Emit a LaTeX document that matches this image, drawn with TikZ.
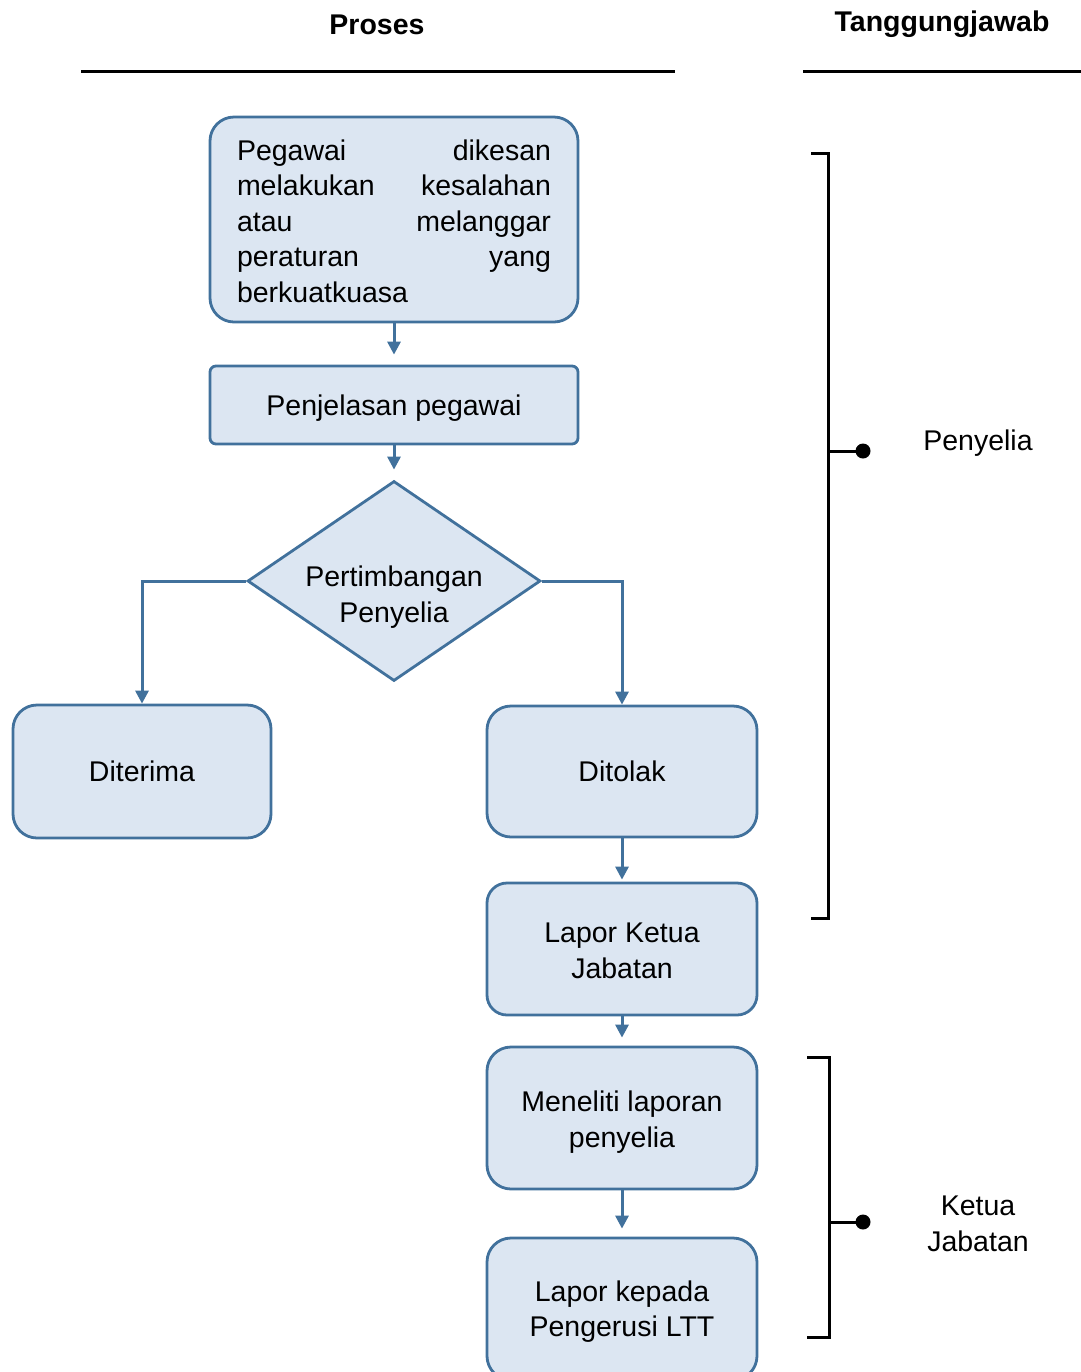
\documentclass[tikz,border=0pt]{standalone}
\usepackage{fontspec}
\setmainfont{Liberation Sans}
\usetikzlibrary{shapes.geometric,arrows.meta}
\definecolor{boxfill}{HTML}{DCE6F2}
\definecolor{boxline}{HTML}{41719C}
\newcommand{\lowtext}[3]{\raisebox{-#1}[\height][\depth]{\parbox{#2}{\centering #3}}}
\begin{document}
\begin{tikzpicture}[x=0.5pt,y=-0.5pt,
  every node/.style={font=\fontsize{14.25pt}{17.75pt}\selectfont, text=black},
  pbox/.style={draw=boxline, fill=boxfill, line width=1.4pt, inner sep=0pt, align=center},
  conn/.style={draw=boxline, line width=1.5pt, -{Triangle[length=6.5pt,width=6.5pt]}},
  brk/.style={draw=black, line width=1.5pt},
  hdr/.style={font=\fontsize{14.25pt}{17.75pt}\selectfont\bfseries}]
\useasboundingbox (0,0) rectangle (1081,1372);
% headers
\node[hdr] (hp) at (377,25) {Proses};
\node[hdr] (ht) at (942,24) {Tanggungjawab};
\draw[black, line width=1.5pt] (81,71.5) -- (675,71.5);
\draw[black, line width=1.5pt] (803,71) -- (1081,71);
% boxes
\node[pbox, rounded corners=12pt, minimum width=184pt, minimum height=102.5pt] (b1) at (394,219.5)
  {\raisebox{-0.8pt}[\height][\depth]{\parbox{157pt}{\fontsize{14.25pt}{17.75pt}\selectfont Pegawai\hfill dikesan\\ melakukan\hfill kesalahan\\ atau\hfill melanggar\\ peraturan\hfill yang\\ berkuatkuasa}}};
\node[pbox, rounded corners=3pt, minimum width=184pt, minimum height=39pt] (b2) at (394,405) {\lowtext{1.5pt}{150pt}{Penjelasan pegawai}};
\node[pbox, shape=diamond, aspect=1.465, minimum width=146.5pt, minimum height=100pt] (dia) at (394,581) {\lowtext{8pt}{100pt}{Pertimbangan\\Penyelia}};
\node[pbox, rounded corners=12pt, minimum width=129pt, minimum height=66.5pt] (ter) at (142,771.5) {Diterima};
\node[pbox, rounded corners=12pt, minimum width=135pt, minimum height=65.5pt] (tol) at (622,771.5) {Ditolak};
\node[pbox, rounded corners=10pt, minimum width=135pt, minimum height=66pt] (lkj) at (622,949) {\lowtext{1pt}{120pt}{Lapor Ketua\\Jabatan}};
\node[pbox, rounded corners=12pt, minimum width=135pt, minimum height=71pt] (men) at (622,1118) {\lowtext{2pt}{125pt}{Meneliti laporan\\penyelia}};
\node[pbox, rounded corners=12pt, minimum width=135pt, minimum height=71pt] (lkp) at (622,1309) {\lowtext{1.3pt}{125pt}{Lapor kepada\\Pengerusi LTT}};
% connectors
\draw[conn, shorten >=5pt] (b1) -- (b2);
\draw[conn, shorten >=5pt] (b2) -- (dia);
\draw[conn] (dia.west) -| (ter.north);
\draw[conn] (dia.east) -| (tol.north);
\draw[conn, shorten >=1pt] (tol) -- (lkj);
\draw[conn, shorten >=4pt] (lkj) -- (men);
\draw[conn, shorten >=4pt] (men) -- (lkp);
% responsibility brackets
\draw[brk] (811,153) -- (828,153) -- (828,918) -- (811,918);
\coordinate (d1) at (863,451);
\draw[brk] (828,451) -- (d1);
\fill[black] (d1) circle (7.5);
\node (pen) at (978,443) {Penyelia};
\draw[brk] (807,1057) -- (829,1057) -- (829,1337) -- (807,1337);
\coordinate (d2) at (863,1222);
\draw[brk] (829,1222) -- (d2);
\fill[black] (d2) circle (7.5);
\node[align=center] (kj) at (978,1224) {Ketua\\Jabatan};
\end{tikzpicture}
\end{document}
